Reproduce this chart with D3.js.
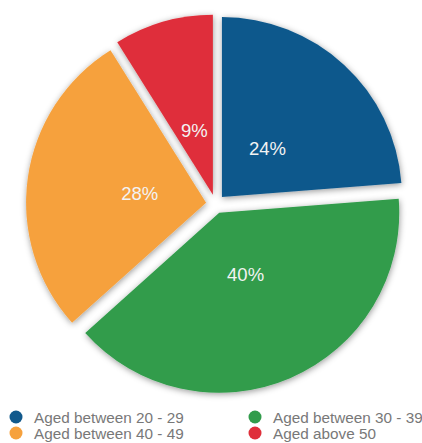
<!DOCTYPE html>
<html>
<head>
<meta charset="utf-8">
<script src="https://cdn.jsdelivr.net/npm/d3@7/dist/d3.min.js"></script>
<style>
  html, body { margin: 0; padding: 0; background: #ffffff; }
  svg { display: block; }
</style>
</head>
<body>
<svg id="chart" width="422" height="443"></svg>
<script>
// Age groups, their shares (in %) and colours, drawn clockwise from 12 o'clock
const categories = ["Aged between 20 - 29", "Aged between 30 - 39", "Aged between 40 - 49", "Aged above 50"];
const shares = [24, 40, 28, 9];
const colors = ["#11598c", "#319c4b", "#f6a13d", "#df2f3a"];
// Legend layout: two columns, two rows
const legendOrder = [0, 1, 2, 3];

const svg = d3.select("#chart");
const cx = 215.5, cy = 204, R = 180, explode = 9.5, labelR = 67;

// Soft grey shadow around each slice
const defs = svg.append("defs");
const f = defs.append("filter").attr("id", "sliceShadow")
  .attr("x", "-20%").attr("y", "-20%").attr("width", "140%").attr("height", "140%");
f.append("feDropShadow")
  .attr("dx", 0.5).attr("dy", 1.5)
  .attr("stdDeviation", 3.4)
  .attr("flood-color", "#000")
  .attr("flood-opacity", 0.4);

const pie = d3.pie().sort(null).value(d => d).startAngle(0).endAngle(2 * Math.PI);
const arcs = pie(shares);
const arc = d3.arc().innerRadius(0).outerRadius(R);
const labelArc = d3.arc().innerRadius(labelR).outerRadius(labelR);

const g = svg.append("g").attr("transform", `translate(${cx},${cy})`);

const slice = g.selectAll("g.slice").data(arcs).enter().append("g")
  .attr("class", "slice")
  .attr("transform", d => {
    const a = (d.startAngle + d.endAngle) / 2;
    return `translate(${explode * Math.sin(a)},${-explode * Math.cos(a)})`;
  });

slice.append("path")
  .attr("d", arc)
  .attr("fill", (d, i) => colors[i])
  .attr("filter", "url(#sliceShadow)");

slice.append("text")
  .attr("transform", d => `translate(${labelArc.centroid(d)})`)
  .attr("text-anchor", "middle")
  .attr("dy", "0.36em")
  .attr("font-family", "'Liberation Sans', Arial, sans-serif")
  .attr("font-size", "18.5px")
  .attr("fill", "#f3f3f3")
  .text(d => d.data + "%");

// Legend
const legend = svg.append("g");
const colX = [16, 255], rowY = [417, 433];
legendOrder.forEach((idx, k) => {
  const x = colX[k % 2], y = rowY[Math.floor(k / 2)];
  legend.append("circle")
    .attr("cx", x).attr("cy", y).attr("r", 6.5)
    .attr("fill", colors[idx]);
  legend.append("text")
    .attr("x", x + 18).attr("y", y)
    .attr("dy", "0.36em")
    .attr("font-family", "'Liberation Sans', Arial, sans-serif")
    .attr("font-size", "15.3px")
    .attr("fill", "#787878")
    .text(categories[idx]);
});
</script>
</body>
</html>
